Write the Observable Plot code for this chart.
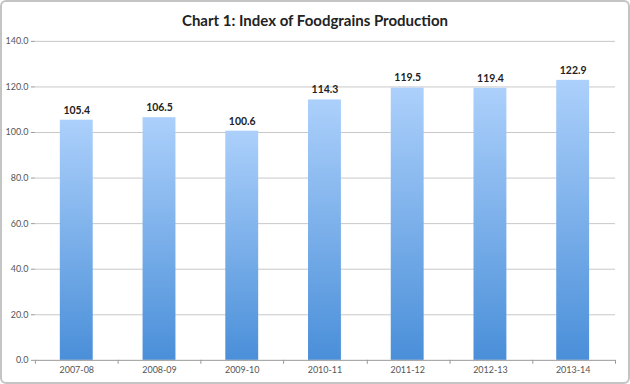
<!DOCTYPE html>
<html>
<head>
<meta charset="utf-8">
<script src="https://cdn.jsdelivr.net/npm/d3@7"></script>
<script src="https://cdn.jsdelivr.net/npm/@observablehq/plot@0.6"></script>
<style>
  html, body { margin: 0; padding: 0; background: #fff; }
  #wrap { position: relative; width: 630px; height: 384px; box-sizing: border-box; border: 2px solid #c4c4c4; border-radius: 6px; overflow: hidden; background: #fff; }
  #title { position: absolute; left: 0; right: 0; top: 9px; text-align: center; font-family: Lato, "Open Sans", sans-serif; font-weight: bold; font-size: 15px; color: #222; }
  #chart { position: absolute; left: -2px; top: -2px; }
</style>
</head>
<body>
<div id="wrap">
  <div id="title">Chart 1: Index of Foodgrains Production</div>
  <div id="chart"></div>
</div>
<script>
const years = ["2007-08", "2008-09", "2009-10", "2010-11", "2011-12", "2012-13", "2013-14"];
const index = [105.4, 106.5, 100.6, 114.3, 119.5, 119.4, 122.9];
const yTicks = [0, 20, 40, 60, 80, 100, 120, 140];

const data = years.map((y, i) => ({year: y, value: index[i]}));

const boundaryTicks = (index_, scales, values, dimensions) => {
  const g = d3.create("svg:g");
  const {marginLeft, marginRight, width, height, marginBottom} = dimensions;
  const step = scales.x.step ? scales.x.step : (width - marginLeft - marginRight) / years.length;
  const y0 = height - marginBottom;
  for (let i = 0; i <= years.length; i++) {
    const x = Math.round(marginLeft + i * (width - marginLeft - marginRight) / years.length) + 0.5;
    g.append("line").attr("x1", x).attr("x2", x).attr("y1", y0).attr("y2", y0 + 4)
      .attr("stroke", "#999").attr("stroke-width", 1);
  }
  return g.node();
};

const chart = Plot.plot({
  width: 630,
  height: 384,
  marginLeft: 35,
  marginRight: 13,
  marginTop: 41,
  marginBottom: 23,
  style: {fontFamily: "Lato, 'Open Sans', sans-serif", background: "transparent"},
  x: {domain: years, paddingInner: 0.6, paddingOuter: 0.3, label: null},
  y: {domain: [0, 140], label: null},
  marks: [
    Plot.ruleY(yTicks.filter(d => d > 0), {stroke: "#c8c8c8", strokeWidth: 1}),
    Plot.barY(data, {x: "year", y: "value", fill: "url(#barGrad)"}),
    Plot.ruleY([0], {stroke: "#999"}),
    Plot.ruleX([0], {frameAnchor: "left", stroke: "#999"}),
    Plot.axisY({ticks: yTicks, tickFormat: d => d.toFixed(1), tickSize: 4, tickPadding: 3, stroke: "#999", fontSize: 9, fill: "#555"}),
    Plot.axisX({tickSize: 0, tickPadding: 6, fontSize: 9, fill: "#555"}),
    boundaryTicks,
    Plot.text(data, {x: "year", y: "value", text: d => d.value.toFixed(1), dy: -10, fontWeight: "bold", fontSize: 10.5, fill: "#222"})
  ]
});

const svg = d3.select(chart);
const defs = svg.insert("defs", ":first-child");
const grad = defs.append("linearGradient").attr("id", "barGrad").attr("x1", 0).attr("y1", 0).attr("x2", 0).attr("y2", 1);
grad.append("stop").attr("offset", "0%").attr("stop-color", "#acd0fb");
grad.append("stop").attr("offset", "100%").attr("stop-color", "#4a8fd9");

document.getElementById("chart").appendChild(chart);
</script>
</body>
</html>
